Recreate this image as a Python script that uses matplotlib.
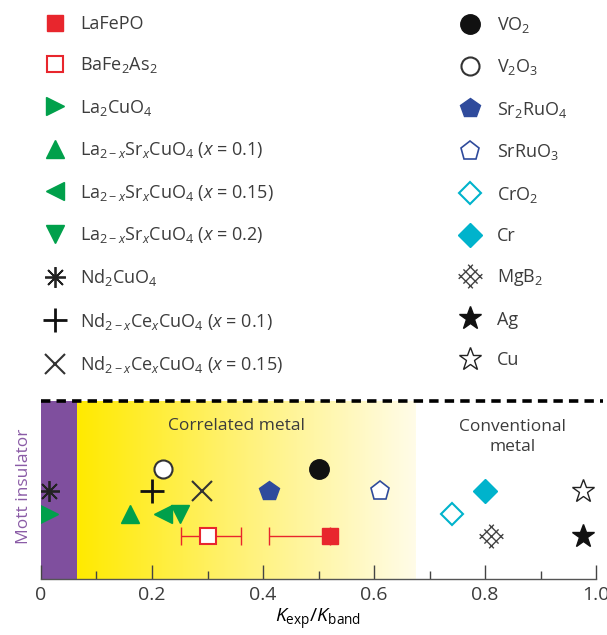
import numpy as np
import matplotlib
matplotlib.use("Agg")
import matplotlib.pyplot as plt
from matplotlib.path import Path
from matplotlib.colors import LinearSegmentedColormap

plt.rcParams['font.family'] = ['Open Sans', 'DejaVu Sans']
plt.rcParams['mathtext.fontset'] = 'custom'
plt.rcParams['mathtext.rm'] = 'Open Sans'
plt.rcParams['mathtext.it'] = 'Open Sans:italic'
plt.rcParams['mathtext.bf'] = 'Open Sans:bold'
plt.rcParams['text.color'] = '#3c3c3c'

# data: K_exp / K_band for each material, and the row it sits on
materials = ['LaFePO', 'BaFe$_2$As$_2$', 'La$_2$CuO$_4$',
             'La$_{2-x}$Sr$_x$CuO$_4$ ($x$ = 0.1)',
             'La$_{2-x}$Sr$_x$CuO$_4$ ($x$ = 0.15)',
             'La$_{2-x}$Sr$_x$CuO$_4$ ($x$ = 0.2)',
             'Nd$_2$CuO$_4$',
             'Nd$_{2-x}$Ce$_x$CuO$_4$ ($x$ = 0.1)',
             'Nd$_{2-x}$Ce$_x$CuO$_4$ ($x$ = 0.15)',
             'VO$_2$', 'V$_2$O$_3$', 'Sr$_2$RuO$_4$', 'SrRuO$_3$',
             'CrO$_2$', 'Cr', 'MgB$_2$', 'Ag', 'Cu']
k_ratio = [0.52, 0.30, 0.015, 0.16, 0.22, 0.25, 0.015, 0.20, 0.29,
           0.50, 0.22, 0.41, 0.61, 0.74, 0.80, 0.81, 0.977, 0.977]
row = [1, 1, 2, 2, 2, 2, 3, 3, 3, 4, 4, 3, 3, 2, 3, 1, 1, 3]

# asymmetric error bars (lower, upper)
err_names = ['LaFePO', 'BaFe$_2$As$_2$']
err_lo = [0.11, 0.047]
err_hi = [0.0, 0.06]

mott_edge = 0.065
corr_edge = 0.675

# cross-hatched diamond for MgB2
verts, codes = [], []
for u in (-1, 0, 1):
    verts += [(u, -1.5), (u, 1.5), (-1.5, u), (1.5, u)]
    codes += [Path.MOVETO, Path.LINETO, Path.MOVETO, Path.LINETO]
c, s = np.cos(np.pi / 4), np.sin(np.pi / 4)
verts = [(x * c - y * s, x * s + y * c) for x, y in verts]
hatch_marker = Path(verts, codes)

red, green, blue, cyan = '#e8262d', '#00a04b', '#2f4b9c', '#00b3cc'
# marker, facecolor, edgecolor, size, edgewidth
styles = [
    ('s', red, red, 12, 1),
    ('s', 'white', red, 12, 1.5),
    ('>', green, green, 13, 1),
    ('^', green, green, 13, 1),
    ('<', green, green, 13, 1),
    ('v', green, green, 13, 1),
    ((8, 2, 0), 'k', '#222222', 15, 1.3),
    ('+', 'k', '#111111', 17, 2),
    ('x', 'k', '#333333', 14, 1.5),
    ('o', '#111111', '#111111', 14, 1),
    ('o', 'white', '#333333', 13, 1.5),
    ('p', blue, blue, 15, 1),
    ('p', 'white', blue, 14, 1.2),
    ('D', 'white', cyan, 11, 1.5),
    ('D', cyan, cyan, 12, 1),
    (hatch_marker, 'none', '#444444', 17, 1.0),
    ('*', '#111111', '#111111', 17, 1),
    ('*', 'white', '#222222', 17, 1),
]

fig = plt.figure(figsize=(6.07, 6.35), dpi=100)
ax = fig.add_axes([0.0675, 0.0882, 0.9145, 0.2803])
ylim = (-0.9, 7.0)

ax.axvspan(0, mott_edge, color='#7f4f9e', zorder=0, lw=0)
cmap = LinearSegmentedColormap.from_list('y', ['#ffea00', '#fff27a', '#fffce8'])
grad = np.linspace(0, 1, 256).reshape(1, -1)
ax.imshow(grad, cmap=cmap, aspect='auto', extent=[mott_edge, corr_edge, ylim[0], ylim[1]], zorder=0)

for name, lo, hi in zip(err_names, err_lo, err_hi):
    i = materials.index(name)
    ax.errorbar(k_ratio[i], row[i], xerr=[[lo], [hi]], fmt='none', ecolor=red,
                elinewidth=1, capsize=6.5, capthick=1, zorder=2)

handles = []
for i, name in enumerate(materials):
    m, fc, ec, ms, mew = styles[i]
    h, = ax.plot(k_ratio[i], row[i], ls='none', marker=m, mfc=fc, mec=ec,
                 ms=ms, mew=mew, label=name, zorder=3)
    handles.append(h)

ax.set_xlim(0, 1.0)
ax.set_ylim(*ylim)
ax.set_yticks([])
ax.set_xticks(np.arange(0, 1.01, 0.2))
ax.set_xticklabels(['0', '0.2', '0.4', '0.6', '0.8', '1.0'])
ax.set_xticks(np.arange(0.1, 1.0, 0.2), minor=True)
ax.tick_params(axis='x', which='major', direction='in', length=10, width=1,
               color='#444444', labelsize=14, labelcolor='#3c3c3c', pad=5)
ax.tick_params(axis='x', which='minor', direction='in', length=5.5, width=1, color='#444444')
for side in ('top', 'left', 'right'):
    ax.spines[side].set_visible(False)
ax.spines['bottom'].set_color('#555555')
ax.spines['bottom'].set_linewidth(1)

ax.plot([0, 1.012], [1, 1], transform=ax.transAxes, color='k', lw=2.6,
        ls=(0, (2.6, 1.7)), clip_on=False, zorder=5)

ax.text(0.353, 5.9, 'Correlated metal', ha='center', va='center', fontsize=12.5)
ax.text(0.85, 5.4, 'Conventional\nmetal', ha='center', va='center', fontsize=12.5,
        linespacing=1.3)
ax.text(-0.03, 3.2, 'Mott insulator', rotation=90, ha='center', va='center',
        fontsize=12.5, color='#8a5ba6')
ax.set_xlabel('$K_{\\rm exp}/K_{\\rm band}$', fontsize=14, labelpad=2)

leg_kw = dict(frameon=False, fontsize=13, handlelength=1.5, borderpad=0,
              borderaxespad=0, labelspacing=1.24, loc='upper left', numpoints=1)
leg1 = fig.legend(handles=handles[:9], bbox_to_anchor=(41.5 / 607, 1 - 15 / 635),
                  handletextpad=0.64, **leg_kw)
leg2 = fig.legend(handles=handles[9:], bbox_to_anchor=(456.5 / 607, 1 - 15 / 635),
                  handletextpad=0.75, **leg_kw)

fig.savefig('out.png', dpi=100)
